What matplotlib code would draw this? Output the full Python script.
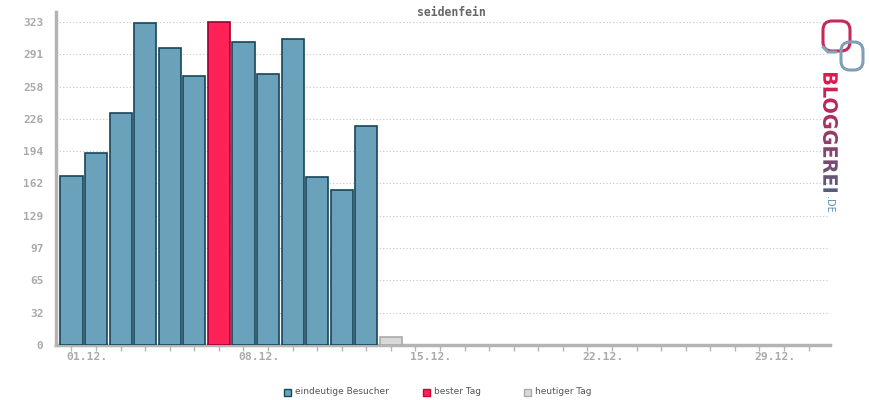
#!/usr/bin/env python3
"""Daily visitor chart for seidenfein (December)."""

import numpy as np
import matplotlib
matplotlib.use('Agg')
import matplotlib.pyplot as plt
from matplotlib.patches import FancyBboxPatch, Rectangle, PathPatch
from matplotlib.textpath import TextPath
from matplotlib.font_manager import FontProperties
from matplotlib.colors import LinearSegmentedColormap
from matplotlib.transforms import Affine2D

TITLE = 'seidenfein'
DAYS = list(range(1, 15))
VISITORS = [169, 192, 232, 322, 297, 269, 323, 303, 271, 306, 168, 155, 219, 8]
Y_TICKS = [0, 32, 65, 97, 129, 162, 194, 226, 258, 291, 323]
X_LABEL_DAYS = [1, 8, 15, 22, 29]
X_LABELS = ['01.12.', '08.12.', '15.12.', '22.12.', '29.12.']
LEGEND_LABELS = ['eindeutige Besucher', 'bester Tag', 'heutiger Tag']

BLUE_COL, BLUE_EDGE = '#6aa1bb', '#16465a'
RED_COL, RED_EDGE = '#ff2257', '#a00030'
GREY_COL, GREY_EDGE = '#d9d9d9', '#aaaaaa'
AXIS_COL = '#b4b4b4'
TEXT_COL = '#aaaaaa'

fig = plt.figure(figsize=(8.7, 4.0), dpi=100)
ax = fig.add_axes([56 / 870, 55 / 400, (830 - 56) / 870, (345 - 12) / 400])

best = max(VISITORS[:-1])
for d, v in zip(DAYS, VISITORS):
    if d == DAYS[-1]:
        fc, ec = GREY_COL, GREY_EDGE
    elif v == best:
        fc, ec = RED_COL, RED_EDGE
    else:
        fc, ec = BLUE_COL, BLUE_EDGE
    ax.bar(d, v, width=0.9, color=fc, edgecolor=ec, linewidth=1.2, zorder=3)

ax.set_xlim(0.37, 31.87)
ax.set_ylim(0, 333)

for y in Y_TICKS[1:]:
    ax.axhline(y, color='#c4c4c4', linestyle=(0, (1, 2)), linewidth=0.8, zorder=1)

ax.set_yticks(Y_TICKS)
ax.set_yticklabels([str(t) for t in Y_TICKS])
ax.set_xticks(range(1, 32))
ax.set_xticklabels([])
ax.tick_params(axis='y', length=0, pad=9, labelsize=8, labelcolor=TEXT_COL)
ax.tick_params(axis='x', length=4, width=1, color=AXIS_COL, direction='out')
for lbl in ax.get_yticklabels():
    lbl.set_family('DejaVu Sans Mono')
    lbl.set_fontweight('bold')

for d, lab in zip(X_LABEL_DAYS, X_LABELS):
    ax.annotate(lab, xy=(d, 0), xycoords=('data', 'axes fraction'),
                xytext=(-5, -7), textcoords='offset pixels',
                ha='left', va='top', fontsize=8.2, fontweight='bold',
                family='DejaVu Sans Mono', color=TEXT_COL)

for side in ['top', 'right']:
    ax.spines[side].set_visible(False)
for side in ['left', 'bottom']:
    ax.spines[side].set_color(AXIS_COL)
    ax.spines[side].set_linewidth(2.5)

fig.text(451 / 870, 1 - 12.5 / 400, TITLE, ha='center', va='center', fontsize=8.3,
         fontweight='bold', family='DejaVu Sans Mono', color='#666666')

# legend along the bottom
leg_x = [284, 423, 524]
leg_cols = [(BLUE_COL, BLUE_EDGE), (RED_COL, '#cc0033'), (GREY_COL, GREY_EDGE)]
for x, (fc, ec), lab in zip(leg_x, leg_cols, LEGEND_LABELS):
    fig.patches.append(Rectangle((x / 870, 1 - 396 / 400), 7 / 870, 7 / 400,
                                 transform=fig.transFigure, facecolor=fc,
                                 edgecolor=ec, linewidth=1))
    fig.text((x + 11) / 870, 1 - 392 / 400, lab, ha='left', va='center',
             fontsize=6.5, color='#555555')

# bloggerei logo, drawn on an overlay in pixel coordinates (y down)
lax = fig.add_axes([0, 0, 1, 1], facecolor='none')
lax.set_xlim(0, 870)
lax.set_ylim(400, 0)
lax.axis('off')

lax.add_patch(FancyBboxPatch((823, 21), 27, 30,
                             boxstyle='round,pad=0,rounding_size=9',
                             facecolor='none', edgecolor='#c42a56', linewidth=2.2))
lax.add_patch(FancyBboxPatch((841, 42), 22, 28,
                             boxstyle='round,pad=0,rounding_size=9',
                             facecolor='none', edgecolor='#7f9fb6', linewidth=2.2))
lax.plot([823, 828, 836], [47, 52, 52], color='#7fa8bf', linewidth=2.2,
         solid_capstyle='round')

tp = TextPath((0, 0), 'BLOGGEREI', size=1, prop=FontProperties(family='DejaVu Sans', weight='bold'))
ext = tp.get_extents()
su = (192 - 73) / ext.width
sv = 15 / ext.height
tr = Affine2D.from_values(0, su, sv, 0, 823 - ext.y0 * sv, 73 - ext.x0 * su)
word = PathPatch(tr.transform_path(tp), facecolor='none', edgecolor='none',
                 transform=lax.transData)
lax.add_patch(word)
cmap = LinearSegmentedColormap.from_list('logo', ['#e5174f', '#9a3a66', '#55607f'])
grad = np.linspace(0, 1, 200).reshape(-1, 1)
img = lax.imshow(grad, cmap=cmap, extent=(820, 842, 195, 70), aspect='auto', zorder=5)
img.set_clip_path(word)
lax.set_xlim(0, 870)
lax.set_ylim(400, 0)
fig.text(829.5 / 870, 1 - 196 / 400, '.DE', rotation=270, ha='center', va='top',
         fontsize=7, color='#5b90b5')

fig.savefig('out.png', dpi=100, facecolor='white')
